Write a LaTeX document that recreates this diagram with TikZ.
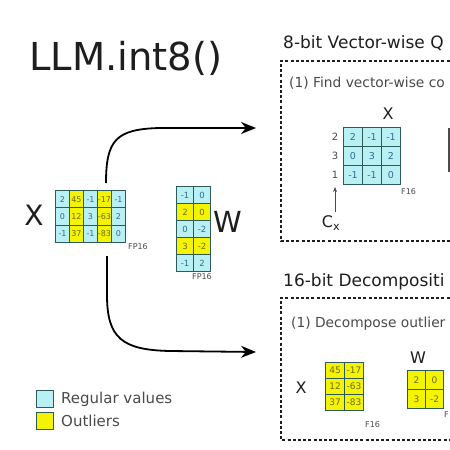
\documentclass[tikz,border=0pt]{standalone}
\usepackage{fontspec}
\setmainfont{DejaVu Sans}
\usetikzlibrary{arrows.meta}
\definecolor{cyanc}{HTML}{B8F0F4}
\definecolor{yelc}{HTML}{F4F400}
\definecolor{gridc}{HTML}{2E5A5A}
\definecolor{numc}{HTML}{2F6E96}
\definecolor{ynumc}{HTML}{6E6A1E}
\definecolor{txtc}{HTML}{1E1E1E}
\definecolor{grayt}{HTML}{4A4A4A}
\tikzset{
  cellc/.style={draw=gridc, fill=cyanc, text=numc, line width=1pt, inner sep=0pt},
  celly/.style={draw=gridc, fill=yelc, text=ynumc, line width=1pt, inner sep=0pt},
  dbox/.style={draw=txtc, line width=2pt, dash pattern=on 3pt off 2.2pt},
  flow/.style={draw=black, line width=1.8pt, -{Stealth[length=15pt,width=12pt]}},
  lbl/.style={text=txtc, inner sep=0pt},
  small/.style={text=grayt, inner sep=0pt, font=\fontsize{8}{9}\selectfont},
}
\newcommand\mrow[7]{%
  \foreach \f/\t [count=\c from 0] in {#7} {
    \node[cell\f, minimum width=#5pt, minimum height=#6pt, anchor=north west]
      (#1-#2-\c) at ({#3+\c*#5},{#4+#2*#6}) {\t};
  }}
\begin{document}
\begin{tikzpicture}[x=1pt,y=-1pt]
\useasboundingbox (0,0) rectangle (450,450);
\clip (0,0) rectangle (450,450);
\fill[white] (0,0) rectangle (450,450);

% title
\node[lbl, anchor=base west, font=\fontsize{38.5}{40}\selectfont] (title) at (29,70) {LLM.int8()};

% main X
\node[lbl, font=\fontsize{28}{30}\selectfont] (bigx) at (34,215) {X};
\begin{scope}[every node/.append style={font=\fontsize{8}{8}\selectfont}]
\mrow{mx}{0}{55}{190}{14}{17.3}{c/2,y/45,c/-1,y/-17,c/-1}
\mrow{mx}{1}{55}{190}{14}{17.3}{c/0,y/12,c/3,y/-63,c/2}
\mrow{mx}{2}{55}{190}{14}{17.3}{c/-1,y/37,c/-1,y/-83,c/0}
\end{scope}
\node[small, anchor=base west] (fpx) at (128,249) {FP16};

% main W
\begin{scope}[every node/.append style={font=\fontsize{8.5}{9}\selectfont}]
\mrow{mw}{0}{176}{186}{17}{17}{c/-1,c/0}
\mrow{mw}{1}{176}{186}{17}{17}{y/2,y/0}
\mrow{mw}{2}{176}{186}{17}{17}{c/0,c/-2}
\mrow{mw}{3}{176}{186}{17}{17}{y/3,y/-2}
\mrow{mw}{4}{176}{186}{17}{17}{c/-1,c/2}
\end{scope}
\node[lbl, font=\fontsize{29}{30}\selectfont] (bigw) at (228,222) {W};
\node[small, anchor=base west] (fpw) at (192,279) {FP16};

% arrows
\coordinate (a1s) at (106,183);
\coordinate (a1e) at (256,128);
\coordinate (a2s) at (107,256);
\coordinate (a2e) at (256,352);
\draw[flow] (a1s) .. controls (106,140) and (116,129) .. (160,128) -- (a1e);
\draw[flow] (a2s) -- (107,295) .. controls (107,338) and (122,350) .. (170,351) -- (a2e);

% upper section
\node[lbl, anchor=base west, font=\fontsize{17}{18}\selectfont] (t8) at (283,48) {8-bit Vector-wise Q};
\draw[dbox] (460,61) -- (281,61) -- (281,241) -- (460,241);
\node[lbl, anchor=base west, text=grayt, font=\fontsize{13.8}{15}\selectfont] (f1) at (289,87) {(1) Find vector-wise co};
\node[lbl, font=\fontsize{16}{16}\selectfont] (ux) at (388,114) {X};
\begin{scope}[every node/.append style={font=\fontsize{9.5}{10}\selectfont}]
\mrow{ux}{0}{343}{127}{19}{19}{c/2,c/-1,c/-1}
\mrow{ux}{1}{343}{127}{19}{19}{c/0,c/3,c/2}
\mrow{ux}{2}{343}{127}{19}{19}{c/-1,c/-1,c/0}
\end{scope}
\node[small, font=\fontsize{10}{10}\selectfont] (r1) at (335,137) {2};
\node[small, font=\fontsize{10}{10}\selectfont] (r2) at (335,156) {3};
\node[small, font=\fontsize{10}{10}\selectfont] (r3) at (335,175) {1};
\node[small, anchor=base west] (fu) at (401,194) {F16};
\node[lbl, font=\fontsize{16}{16}\selectfont] (cx) at (331,223) {C\textsubscript{x}};
\coordinate (cxs) at (335,212);
\draw[line width=1pt, -{Stealth[length=5pt,width=4pt]}, draw=grayt] (cxs) -- (r3.south |- 0,187);
\draw[line width=2pt, draw=txtc!80] (448.5,128) -- (448.5,172);

% lower section
\node[lbl, anchor=base west, font=\fontsize{17}{18}\selectfont] (t16) at (283,286) {16-bit Decompositi};
\draw[dbox] (460,298) -- (281,298) -- (281,440) -- (460,440);
\node[lbl, anchor=base west, text=grayt, font=\fontsize{13.8}{15}\selectfont] (d1) at (291,327) {(1) Decompose outlier};
\node[lbl, font=\fontsize{16}{16}\selectfont] (lx) at (301,388) {X};
\begin{scope}[every node/.append style={font=\fontsize{9}{9}\selectfont}]
\mrow{lx}{0}{325}{362}{19}{16}{y/45,y/-17}
\mrow{lx}{1}{325}{362}{19}{16}{y/12,y/-63}
\mrow{lx}{2}{325}{362}{19}{16}{y/37,y/-83}
\mrow{lw}{0}{407}{370}{18}{19}{y/2,y/0}
\mrow{lw}{1}{407}{370}{18}{19}{y/3,y/-2}
\end{scope}
\node[small, anchor=base west] (fl) at (365,427) {F16};
\node[lbl, font=\fontsize{16}{16}\selectfont] (lw) at (418,358) {W};
\node[small, anchor=base west] (fl2) at (444,417) {F};

% legend
\node[cellc, minimum width=17pt, minimum height=17pt, anchor=north west] (lg1) at (36,390) {};
\node[celly, minimum width=17pt, minimum height=17pt, anchor=north west] (lg2) at (36,412) {};
\node[lbl, anchor=west, text=grayt, font=\fontsize{15}{16}\selectfont] (lt1) at ([xshift=7pt]lg1.east) {Regular values};
\node[lbl, anchor=west, text=grayt, font=\fontsize{15}{16}\selectfont] (lt2) at ([xshift=7pt]lg2.east) {Outliers};
\end{tikzpicture}
\end{document}
